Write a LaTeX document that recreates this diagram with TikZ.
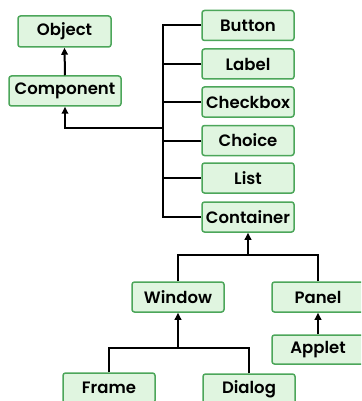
\documentclass[tikz,border=0pt]{standalone}
\usepackage{fontspec}
\setmainfont{Poppins}[UprightFont=* SemiBold]
\usetikzlibrary{arrows.meta}
\definecolor{boxfill}{HTML}{E0F5E0}
\definecolor{boxline}{HTML}{4CA65A}
\begin{document}
\begin{tikzpicture}[x=1pt,y=-1pt,
  cls/.style={draw=boxline,fill=boxfill,line width=1.5pt,rounded corners=2.5pt,
    minimum width=92pt,minimum height=30pt,inner sep=0pt,
    font=\fontsize{16.5}{18}\selectfont},
  link/.style={line width=2pt,black},
  up/.style={link,-{Triangle[length=7pt,width=6.5pt]}}]
\clip (0,0) rectangle (361,401);
\fill[white] (0,0) rectangle (361,401);

% classes
\node[cls,minimum width=93pt,minimum height=31pt] (object) at (64.5,31.5) {Object};
\node[cls,minimum width=112pt] (component) at (65,91) {Component};
\node[cls] (button) at (248,25.5) {Button};
\node[cls] (label) at (248,64) {Label};
\node[cls] (checkbox) at (248,102) {Checkbox};
\node[cls] (choice) at (248,140.5) {Choice};
\node[cls] (list) at (248,178) {List};
\node[cls] (container) at (248,217) {Container};
\node[cls] (window) at (178,297) {Window};
\node[cls] (panel) at (318,297) {Panel};
\node[cls,minimum height=29pt] (applet) at (318,349.5) {Applet};
\node[cls] (frame) at (109,388) {Frame};
\node[cls] (dialog) at (249,389) {Dialog};

% junction points
\coordinate (jcomp) at (163,128);
\coordinate (jcont) at (248,255);
\coordinate (jwin) at (178,348);

% inheritance links
\draw[up] (component.north) -- (object.south);
\foreach \c in {button,label,checkbox,choice,list,container}
  \draw[link] (\c.west) -| (jcomp);
\draw[up] (jcomp) -| (component.south);
\draw[link] (window.north) |- (jcont);
\draw[link] (panel.north) |- (jcont);
\draw[up] (jcont) -- (container.south);
\draw[up] (applet.north) -- (panel.south);
\draw[link] (frame.north) |- (jwin);
\draw[link] (dialog.north) |- (jwin);
\draw[up] (jwin) -- (window.south);
\end{tikzpicture}
\end{document}
